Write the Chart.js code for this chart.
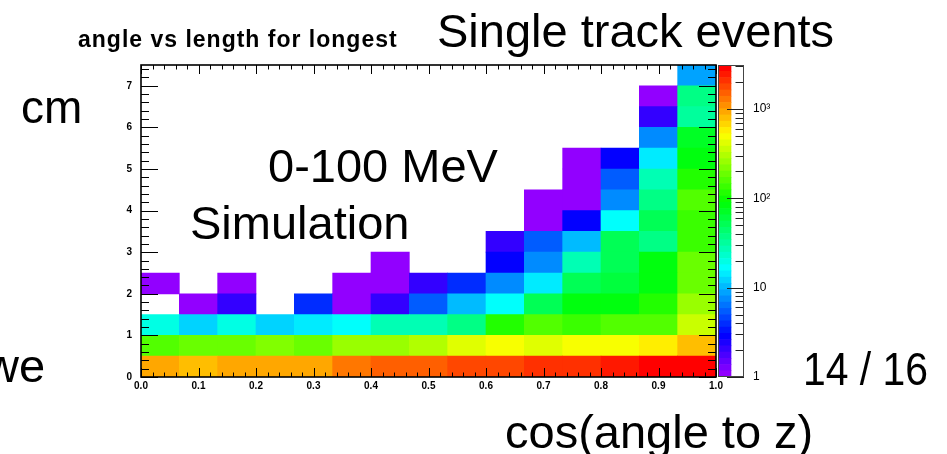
<!DOCTYPE html>
<html><head><meta charset="utf-8">
<script src="https://cdn.jsdelivr.net/npm/chart.js@4.4.0/dist/chart.umd.min.js"></script>
<style>
html,body{margin:0;padding:0;background:#fff;width:947px;height:454px;overflow:hidden;position:relative;font-family:"Liberation Sans",Arial,sans-serif;}
#main{position:absolute;left:0;top:0;width:947px;height:454px;}
#cbar{position:absolute;left:700px;top:0;width:120px;height:454px;}
.t{position:absolute;white-space:nowrap;color:#000;font-size:47px;line-height:47px;}
.rt{position:absolute;white-space:nowrap;color:#000;font-size:23px;line-height:23px;font-weight:bold;letter-spacing:1px;}
</style></head><body>
<canvas id="main" width="947" height="454"></canvas>
<canvas id="cbar" width="120" height="454"></canvas>
<div class="rt" style="left:78px;top:28px">angle vs length for longest</div>
<div class="t" style="left:437px;top:7px">Single track events</div>
<div class="t" style="left:21px;top:84px;font-size:46px;line-height:46px">cm</div>
<div class="t" style="left:268px;top:142px">0-100 MeV</div>
<div class="t" style="left:190px;top:199px">Simulation</div>
<div class="t" style="left:-15px;top:342px">we</div>
<div class="t" style="left:803px;top:345px;transform:scaleX(0.87);transform-origin:0 0">14 / 16</div>
<div class="t" style="left:505px;top:408px">cos(angle to z)</div>
<script>
// ---- data ----
const cosBinCenters = [1/30, 3/30, 5/30, 7/30, 9/30, 11/30, 13/30, 15/30, 17/30, 19/30, 21/30, 23/30, 25/30, 27/30, 29/30];
const lengthBinEdges = [0, 0.5, 1, 1.5, 2, 2.5, 3, 3.5, 4, 4.5, 5, 5.5, 6, 6.5, 7, 7.5];
const xTickValues = [0.0, 0.1, 0.2, 0.3, 0.4, 0.5, 0.6, 0.7, 0.8, 0.9, 1.0];
const yTickValues = [0, 1, 2, 3, 4, 5, 6, 7];
const zTickLabels = {1: '1', 10: '10', 100: '10²', 1000: '10³'};
const zMin = 1, zMax = 3100;

// counts per length bin (cm), one value per cos(angle) bin
const len_0_0p5   = [900, 760, 880, 870, 900, 1230, 1420, 1400, 1650, 1680, 1950, 1980, 2300, 2650, 2700];
const len_0p5_1   = [150, 180, 180, 210, 175, 250, 245, 290, 400, 480, 410, 490, 500, 560, 780];
const len_1_1p5   = [20, 12, 21, 13, 14, 16, 26, 28, 36, 112, 150, 140, 155, 150, 340];
const len_1p5_2   = [0, 1, 2, 0, 4, 1, 2, 5, 10, 16, 55, 80, 82, 110, 240];
const len_2_2p5   = [1, 0, 1, 0, 0, 1, 1, 2, 4, 7, 14, 55, 62, 80, 195];
const len_2p5_3   = [0, 0, 0, 0, 0, 0, 1, 0, 0, 3, 7, 26, 52, 85, 175];
const len_3_3p5   = [0, 0, 0, 0, 0, 0, 0, 0, 0, 2, 5, 10, 50, 40, 135];
const len_3p5_4   = [0, 0, 0, 0, 0, 0, 0, 0, 0, 0, 1, 3, 16, 55, 135];
const len_4_4p5   = [0, 0, 0, 0, 0, 0, 0, 0, 0, 0, 1, 1, 7, 40, 150];
const len_4p5_5   = [0, 0, 0, 0, 0, 0, 0, 0, 0, 0, 0, 1, 5, 26, 110];
const len_5_5p5   = [0, 0, 0, 0, 0, 0, 0, 0, 0, 0, 0, 1, 3, 14, 80];
const len_5p5_6   = [0, 0, 0, 0, 0, 0, 0, 0, 0, 0, 0, 0, 0, 7, 68];
const len_6_6p5   = [0, 0, 0, 0, 0, 0, 0, 0, 0, 0, 0, 0, 0, 2, 34];
const len_6p5_7   = [0, 0, 0, 0, 0, 0, 0, 0, 0, 0, 0, 0, 0, 1, 40];
const len_7_7p5   = [0, 0, 0, 0, 0, 0, 0, 0, 0, 0, 0, 0, 0, 0, 9];
const lengthRows = [len_0_0p5, len_0p5_1, len_1_1p5, len_1p5_2, len_2_2p5, len_2p5_3, len_3_3p5, len_3p5_4,
                    len_4_4p5, len_4p5_5, len_5_5p5, len_5p5_6, len_6_6p5, len_6p5_7, len_7_7p5];

// ROOT "pretty" palette: 50 colours, hue 280 -> 0
const NCOL = 50;
function paletteIndexColor(k) {
  const hue = 280 - (k + 1) * (280 / NCOL);
  return 'hsl(' + Math.max(0, hue) + ',100%,50%)';
}
function colorFor(v) {
  let k = Math.floor(NCOL * Math.log10(v / zMin) / Math.log10(zMax / zMin));
  k = Math.max(0, Math.min(NCOL - 1, k));
  return paletteIndexColor(k);
}

const datasets = lengthRows.map((row, r) => {
  const data = [], colors = [];
  row.forEach((v, c) => {
    if (v > 0) {
      data.push({x: cosBinCenters[c], y: [lengthBinEdges[r], lengthBinEdges[r + 1]]});
      colors.push(colorFor(v));
    }
  });
  return {data, backgroundColor: colors, borderWidth: 0, grouped: false,
          barPercentage: 1, categoryPercentage: 1};
});

const frameTicks = {
  id: 'frameTicks',
  afterDatasetsDraw(chart) {
    const {ctx, chartArea: a, scales: {x, y}} = chart;
    ctx.save();
    ctx.strokeStyle = '#000';
    ctx.lineWidth = 1;
    ctx.beginPath();
    for (let i = 0; i <= 50; i++) {
      const px = Math.round(x.getPixelForValue(i * 0.02)) + 0.5;
      const L = i % 5 === 0 ? 9 : 4.5;
      ctx.moveTo(px, a.bottom); ctx.lineTo(px, a.bottom - L);
      ctx.moveTo(px, a.top); ctx.lineTo(px, a.top + L);
    }
    for (let i = 0; i <= 37; i++) {
      const py = Math.round(y.getPixelForValue(i * 0.2)) + 0.5;
      const L = i % 5 === 0 ? 17 : 8;
      ctx.moveTo(a.left, py); ctx.lineTo(a.left + L, py);
      ctx.moveTo(a.right, py); ctx.lineTo(a.right - L, py);
    }
    ctx.stroke();
    ctx.lineWidth = 1.6;
    ctx.strokeRect(a.left, a.top, a.right - a.left, a.bottom - a.top);
    ctx.restore();
  }
};

const tickFont = {family: '"Liberation Sans", Arial, sans-serif', size: 10, weight: 'bold'};

new Chart(document.getElementById('main'), {
  type: 'bar',
  data: {datasets},
  options: {
    responsive: false,
    animation: false,
    layout: {padding: {left: 0, top: 65, right: 231, bottom: 0}},
    plugins: {legend: {display: false}, tooltip: {enabled: false}},
    scales: {
      x: {
        type: 'linear', min: 0, max: 1, offset: false,
        grid: {display: false, offset: false, drawTicks: false},
        border: {display: false},
        afterBuildTicks: s => { s.ticks = xTickValues.map(v => ({value: v})); },
        afterFit: s => { s.height = 77; },
        ticks: {font: tickFont, color: '#000', padding: 3, maxRotation: 0, autoSkip: false,
                callback: v => Number(v).toFixed(1)}
      },
      y: {
        type: 'linear', min: 0, max: 7.5,
        grid: {display: false, drawTicks: false},
        border: {display: false},
        afterBuildTicks: s => { s.ticks = yTickValues.map(v => ({value: v})); },
        afterFit: s => { s.width = 141; },
        ticks: {font: tickFont, color: '#000', padding: 9, autoSkip: false,
                callback: v => String(v)}
      }
    }
  },
  plugins: [frameTicks]
});

// ---- colour bar ----
const cbDatasets = [];
for (let k = 0; k < NCOL; k++) {
  const lo = zMin * Math.pow(zMax / zMin, k / NCOL);
  const hi = zMin * Math.pow(zMax / zMin, (k + 1) / NCOL);
  cbDatasets.push({data: [[lo, hi]], backgroundColor: paletteIndexColor(k), borderWidth: 0,
                   grouped: false, barPercentage: 1, categoryPercentage: 1});
}
const cbFrame = {
  id: 'cbFrame',
  afterDatasetsDraw(chart) {
    const {ctx, chartArea: a, scales: {y}} = chart;
    ctx.save();
    ctx.strokeStyle = '#222';
    ctx.lineWidth = 1;
    ctx.beginPath();
    for (let d = 1; d <= 1000; d *= 10) {
      for (let m = 1; m <= 9; m++) {
        const v = d * m;
        if (v > zMax) break;
        const py = Math.round(y.getPixelForValue(v)) + 0.5;
        const L = m === 1 ? 17 : 8.5;
        ctx.moveTo(a.right, py); ctx.lineTo(a.right - L, py);
      }
    }
    ctx.stroke();
    ctx.strokeStyle = '#444';
    ctx.strokeRect(a.left + 0.5, a.top + 0.5, a.right - a.left - 1, a.bottom - a.top - 1);
    ctx.restore();
  }
};
new Chart(document.getElementById('cbar'), {
  type: 'bar',
  data: {labels: ['z'], datasets: cbDatasets},
  options: {
    responsive: false,
    animation: false,
    layout: {padding: {left: 18, top: 65, right: 0, bottom: 77}},
    plugins: {legend: {display: false}, tooltip: {enabled: false}},
    scales: {
      x: {display: false, offset: false},
      y: {
        type: 'logarithmic', position: 'right', min: zMin, max: zMax,
        grid: {display: false, drawTicks: false},
        border: {display: false},
        afterFit: s => { s.width = 76; },
        ticks: {font: {family: '"Liberation Sans", Arial, sans-serif', size: 12}, color: '#000',
                padding: 9, autoSkip: false,
                callback: v => zTickLabels[v] !== undefined ? zTickLabels[v] : ''}
      }
    }
  },
  plugins: [cbFrame]
});
</script>
</body></html>
